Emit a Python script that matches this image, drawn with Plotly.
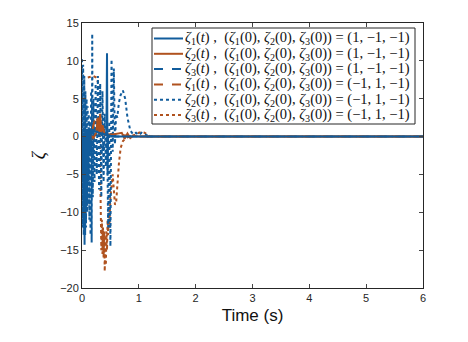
import plotly.graph_objects as go

BLUE = "#115c9c"
ORANGE = "#b0521f"

# ---- data ----
t_z1a = [0, 0.005, 0.01, 0.015, 0.02, 0.025, 0.03, 0.035, 0.04, 0.045, 0.05, 0.055, 0.06, 0.065,
         0.07, 0.08, 0.09, 0.1, 0.12, 0.14, 0.16, 0.2, 0.25, 0.3, 0.35, 0.4, 0.43, 0.44, 0.45, 0.46,
         0.5, 0.55, 0.6, 0.7, 0.8, 1.0, 6]
z1a = [1, -3, 0.8, -6, 0.5, -9, 0.3, -12, 0, -14.3, 0.5, -13, 1, -11,
       1, -8, 0.8, -5, 0.9, -2, 1, 0.8, 0.6, 0.5, 0.4, 0.3, 0.2, 11, -5, 0.2,
       0.1, 0.05, 0, 0, 0, 0, 0]

t_z2a = [0, 0.05, 0.1, 0.15, 0.2, 0.25, 0.28, 0.3, 0.32, 0.34, 0.36, 0.4, 0.5, 0.6, 0.7, 0.75,
         0.8, 0.85, 0.9, 1.0, 6]
z2a = [-1, -0.5, -0.3, 0.2, -0.2, 0.5, 2.5, 0.3, 3, 0.5, 1.5, 0.3, 0.2, 0.3, 0.5, -0.3,
       0.4, -0.2, 0.1, 0, 0]

t_z3a = [0, 0.01, 0.02, 0.03, 0.04, 0.05, 0.06, 0.07, 0.08, 0.09, 0.1, 0.11, 0.12, 0.2, 0.3,
         0.35, 0.4, 0.5, 6]
z3a = [-1, -4, -1, -8, -1.5, -11.5, -2, -11, -2, -9, -2, -6, -2, -2, -2.1,
       -2, -0.5, 0, 0]

t_z1b = [0, 0.02, 0.05, 0.1, 0.15, 0.2, 0.25, 0.3, 0.35, 0.4, 0.5, 0.6, 0.7, 0.8, 0.9, 6]
z1b = [-1, 0.5, -0.5, 1, -0.5, 1.5, 2.8, 1, 0.5, 0.2, 0.3, 0.1, 0.2, 0.1, 0, 0]

t_z2b = [0, 0.01, 0.02, 0.03, 0.04, 0.05, 0.06, 0.07, 0.08, 0.09, 0.1, 0.11, 0.12, 0.13, 0.14,
         0.15, 0.16, 0.17, 0.18, 0.19, 0.2, 0.22, 0.24, 0.26, 0.28, 0.3, 0.32, 0.34, 0.36, 0.38,
         0.4, 0.42, 0.44, 0.46, 0.48, 0.5, 0.52, 0.54, 0.56, 0.58, 0.6, 0.62, 0.65, 0.68, 0.72,
         0.76, 0.8, 0.85, 0.9, 0.95, 1.0, 1.05, 1.1, 1.15, 1.2, 1.3, 6]
z2b = [10.2, -12, 9.5, -13, 8, -11, 6, -12, 5, -10, 4, -9, 3, -11, 2,
       -13, 6, -14, 13.6, -8, 5, -6, 7, -5, 8, -7, 7, -8, 6, -6,
       3, -4, 2, -12, 2, -14.5, 10.2, -2, 9, -1, 3, 2.5, 4.5, 5.5, 6.1,
       5, 2.5, 0.8, 0.3, 0.5, 0.2, 0.5, 0.3, 0.1, 0, 0, 0]

t_z3b = [0, 0.05, 0.1, 0.15, 0.2, 0.25, 0.28, 0.3, 0.32, 0.34, 0.35, 0.36, 0.37, 0.38, 0.39,
         0.4, 0.41, 0.42, 0.43, 0.44, 0.45, 0.46, 0.47, 0.48, 0.5, 0.52, 0.54, 0.56, 0.58, 0.6,
         0.62, 0.65, 0.68, 0.72, 0.76, 0.8, 0.85, 0.9, 0.95, 1.0, 1.05, 1.1, 1.15, 1.2, 1.25, 6]
z3b = [7.8, 7.9, 7.8, 7.9, 8.0, 7.8, 7.2, 6.5, -9.5, -15, -11, -15.5, -12, -16, -12.5,
       -17.8, -13, -17, -12.5, -15, -11, -13, -10, -12, -8, -6, -5, -7, -9, -8.8,
       -6, -3.5, -1.5, -0.6, -0.3, -0.1, 0, 0.1, 0.3, 0.5, 0.6, 0.5, 0.3, 0, 0, 0]

x_ticks = [0, 1, 2, 3, 4, 5, 6]
y_ticks = [-20, -15, -10, -5, 0, 5, 10, 15]

legend_labels = [
    "<i>ζ</i><sub>1</sub>(<i>t</i>) ,  (<i>ζ</i><sub>1</sub>(0), <i>ζ</i><sub>2</sub>(0), <i>ζ</i><sub>3</sub>(0)) = (1, −1, −1)",
    "<i>ζ</i><sub>2</sub>(<i>t</i>) ,  (<i>ζ</i><sub>1</sub>(0), <i>ζ</i><sub>2</sub>(0), <i>ζ</i><sub>3</sub>(0)) = (1, −1, −1)",
    "<i>ζ</i><sub>3</sub>(<i>t</i>) ,  (<i>ζ</i><sub>1</sub>(0), <i>ζ</i><sub>2</sub>(0), <i>ζ</i><sub>3</sub>(0)) = (1, −1, −1)",
    "<i>ζ</i><sub>1</sub>(<i>t</i>) ,  (<i>ζ</i><sub>1</sub>(0), <i>ζ</i><sub>2</sub>(0), <i>ζ</i><sub>3</sub>(0)) = (−1, 1, −1)",
    "<i>ζ</i><sub>2</sub>(<i>t</i>) ,  (<i>ζ</i><sub>1</sub>(0), <i>ζ</i><sub>2</sub>(0), <i>ζ</i><sub>3</sub>(0)) = (−1, 1, −1)",
    "<i>ζ</i><sub>3</sub>(<i>t</i>) ,  (<i>ζ</i><sub>1</sub>(0), <i>ζ</i><sub>2</sub>(0), <i>ζ</i><sub>3</sub>(0)) = (−1, 1, −1)",
]

series = [
    (t_z3b, z3b, ORANGE, "dot"),
    (t_z2b, z2b, BLUE, "dot"),
    (t_z1b, z1b, ORANGE, "dash"),
    (t_z3a, z3a, BLUE, "dash"),
    (t_z2a, z2a, ORANGE, "solid"),
    (t_z1a, z1a, BLUE, "solid"),
]
legend_styles = [
    (BLUE, "solid"), (ORANGE, "solid"), (BLUE, "dash"),
    (ORANGE, "dash"), (BLUE, "dot"), (ORANGE, "dot"),
]

fig = go.Figure()
for tx, vy, col, dash in series:
    fig.add_trace(go.Scatter(x=tx, y=vy, mode="lines",
                             line=dict(color=col, width=2, dash=dash),
                             showlegend=False, hoverinfo="skip"))

# layout geometry (page has an 8px body margin, so the figure is offset by 8px)
OFF = 8
W, H = 460, 334
L, T = 82 - OFF, 23 - OFF
PW, PH = 341, 265
R, B = W - L - PW, H - T - PH

def px2paper(px, py):
    # px, py in window pixels
    return (px - OFF - L) / PW, (T + PH - (py - OFF)) / PH

shapes = []
annotations = []
# legend box
x0, y0 = px2paper(152, 124)
x1, y1 = px2paper(415, 28)
shapes.append(dict(type="rect", xref="paper", yref="paper", x0=x0, y0=y0, x1=x1, y1=y1,
                   line=dict(color="#262626", width=1), fillcolor="white", layer="above"))
for i, (lab, (col, dash)) in enumerate(zip(legend_labels, legend_styles)):
    py = 38.5 + 15.3 * i
    lx0, ly = px2paper(154, py)
    lx1, _ = px2paper(183, py)
    shapes.append(dict(type="line", xref="paper", yref="paper", x0=lx0, x1=lx1, y0=ly, y1=ly,
                       line=dict(color=col, width=2, dash=dash), layer="above"))
    tx, _ = px2paper(183, py)
    annotations.append(dict(xref="paper", yref="paper", x=tx, y=ly, text=lab, showarrow=False,
                            xanchor="left", yanchor="middle",
                            font=dict(family="Liberation Serif", size=14.5, color="#111111")))

fig.update_layout(
    width=W, height=H,
    margin=dict(l=L, r=R, t=T, b=B, autoexpand=False),
    paper_bgcolor="white", plot_bgcolor="white",
    showlegend=False,
    shapes=shapes, annotations=annotations,
    font=dict(family="Liberation Sans", size=11, color="#262626"),
    xaxis=dict(range=[0, 6], tickvals=x_ticks, ticks="inside", ticklen=4,
               showline=True, mirror="ticks", linecolor="#262626", linewidth=1,
               showgrid=False, zeroline=False, automargin=False,
               title=dict(text="Time (s)", font=dict(family="Liberation Sans", size=17, color="#111111"),
                          standoff=5)),
    yaxis=dict(range=[-20, 15], tickvals=y_ticks, ticks="inside", ticklen=4,
               showline=True, mirror="ticks", linecolor="#262626", linewidth=1,
               showgrid=False, zeroline=False, automargin=False,
               title=dict(text="<i>ζ</i>", font=dict(family="Liberation Serif", size=18, color="#111111"),
                          standoff=9)),
)

fig.write_html("out.html")
